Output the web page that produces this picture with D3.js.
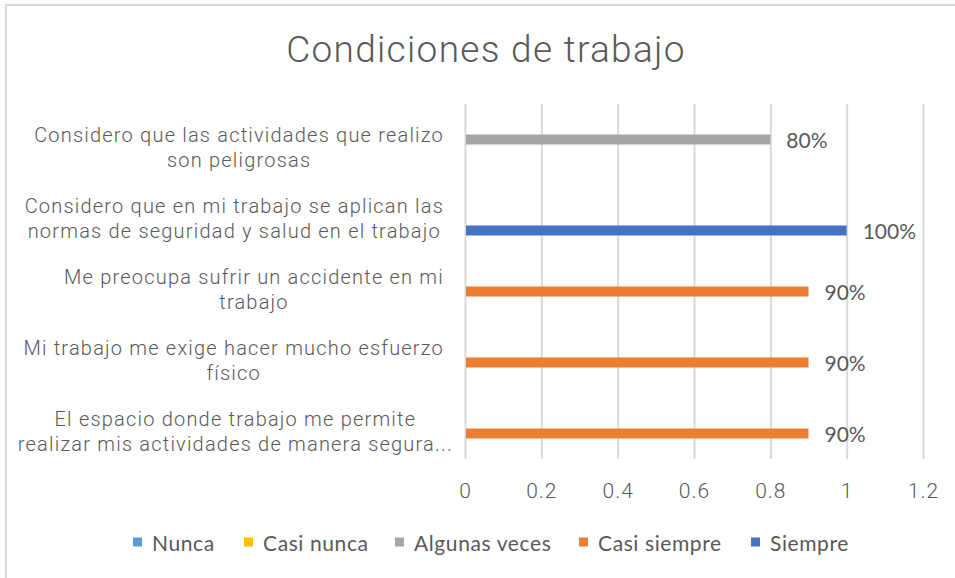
<!DOCTYPE html>
<html><head><meta charset="utf-8">
<script src="https://cdn.jsdelivr.net/npm/d3@7"></script>
<style>
html,body{margin:0;padding:0;background:#fff;}
svg{display:block;}
</style></head>
<body>
<svg id="chart" width="955" height="578"></svg>
<script>
// ---- data ----
const title = "Condiciones de trabajo";
const categories = [
  "Considero que las actividades que realizo son peligrosas",
  "Considero que en mi trabajo se aplican las normas de seguridad y salud en el trabajo",
  "Me preocupa sufrir un accidente en mi trabajo",
  "Mi trabajo me exige hacer mucho esfuerzo físico",
  "El espacio donde trabajo me permite realizar mis actividades de manera segura..."
];
const categoryLines = [
  ["Considero que las actividades que realizo", "son peligrosas"],
  ["Considero que en mi trabajo se aplican las", "normas de seguridad y salud en el trabajo"],
  ["Me preocupa sufrir un accidente en mi", "trabajo"],
  ["Mi trabajo me exige hacer mucho esfuerzo", "físico"],
  ["El espacio donde trabajo me permite", "realizar mis actividades de manera segura..."]
];
const seriesNames = ["Nunca", "Casi nunca", "Algunas veces", "Casi siempre", "Siempre"];
const seriesColors = ["#5B9BD5", "#FFC000", "#A5A5A5", "#ED7D31", "#4472C4"];
const nunca        = [null, null, null, null, null];
const casiNunca    = [null, null, null, null, null];
const algunasVeces = [0.8, null, null, null, null];
const casiSiempre  = [null, null, 0.9, 0.9, 0.9];
const siempre      = [null, 1.0, null, null, null];
const xTicks = [0, 0.2, 0.4, 0.6, 0.8, 1, 1.2];

const seriesValues = [nunca, casiNunca, algunasVeces, casiSiempre, siempre];

// ---- layout ----
const svg = d3.select("#chart");
const plot = {left: 465, right: 923, top: 104, bottom: 459};
const txt = "#595959";
const catFont = "Roboto, sans-serif";

// frame
svg.append("rect").attr("x", 6).attr("y", 5).attr("width", 980).attr("height", 620)
  .attr("fill", "#fff").attr("stroke", "#d9d9d9").attr("stroke-width", 2);

// title
svg.append("text").attr("x", 486).attr("y", 62).attr("text-anchor", "middle")
  .attr("font-family", catFont).attr("font-weight", 300).attr("font-size", 37)
  .attr("letter-spacing", 1.3)
  .attr("fill", txt).text(title);

const x = d3.scaleLinear().domain([0, 1.2]).range([plot.left, plot.right]);
const y0 = d3.scaleBand().domain(categories).range([plot.top, plot.bottom]).paddingInner(0).paddingOuter(0);
const y1 = d3.scaleBand().domain(seriesNames).range([0, y0.bandwidth()]).paddingInner(0).paddingOuter(1.05);

// gridlines via axis
const gx = svg.append("g").attr("transform", `translate(0,${plot.bottom})`)
  .call(d3.axisBottom(x).tickValues(xTicks).tickSize(-(plot.bottom - plot.top)).tickFormat(d3.format("")));
gx.select(".domain").remove();
gx.selectAll(".tick line").attr("stroke", "#d9d9d9").attr("stroke-width", 2);
gx.selectAll(".tick text").attr("y", 39).attr("dy", 0)
  .attr("font-family", catFont).attr("font-weight", 300).attr("font-size", 21)
  .attr("letter-spacing", 1).attr("fill", txt);

// bars
const bars = [];
seriesValues.forEach((vals, si) => {
  vals.forEach((v, ci) => {
    if (v != null) bars.push({cat: categories[ci], s: seriesNames[si], color: seriesColors[si], v});
  });
});
svg.append("g").selectAll("rect").data(bars).join("rect")
  .attr("x", x(0) + 1)
  .attr("y", d => y0(d.cat) + y1(d.s))
  .attr("width", d => x(d.v) - x(0) - 1)
  .attr("height", y1.bandwidth())
  .attr("fill", d => d.color);

// data labels
svg.append("g").selectAll("text").data(bars).join("text")
  .attr("x", d => x(d.v) + 16)
  .attr("y", d => y0(d.cat) + y1(d.s) + y1.bandwidth() / 2 + 8.5)
  .attr("font-family", "Lato, sans-serif").attr("font-size", 21).attr("fill", txt)
  .text(d => d3.format(".0%")(d.v));

// category labels (centred lines, block right-aligned; a trailing ellipsis overhangs)
const catG = svg.append("g");
const measure = svg.append("text").attr("font-family", catFont).attr("font-weight", 300)
  .attr("font-size", 20).attr("letter-spacing", 1.2).attr("visibility", "hidden");
categories.forEach((c, i) => {
  const cy = y0(c) + y0.bandwidth() / 2;
  const g = catG.append("g");
  const texts = categoryLines[i].map((ln, li) =>
    g.append("text").attr("y", cy + 2 + li * 25.5)
      .attr("font-family", catFont).attr("font-weight", 300).attr("font-size", 20)
      .attr("letter-spacing", 1.2)
      .attr("fill", txt).attr("text-anchor", "middle").text(ln));
  const maxW = d3.max(categoryLines[i], ln => {
    measure.text(ln.replace(/\.\.\.$/, ""));
    return measure.node().getComputedTextLength();
  });
  texts.forEach(t => t.attr("x", 444 - maxW / 2));
});
measure.remove();

// legend
const legendX = [133, 244, 395, 579, 751];
const lg = svg.append("g");
seriesNames.forEach((s, i) => {
  lg.append("rect").attr("x", legendX[i]).attr("y", 537.5).attr("width", 9).attr("height", 9).attr("fill", seriesColors[i]);
  lg.append("text").attr("x", legendX[i] + 19).attr("y", 550.5)
    .attr("font-family", "Lato, sans-serif").attr("font-size", 21).attr("letter-spacing", 0.6)
    .attr("fill", txt).text(s);
});
</script>
</body></html>
